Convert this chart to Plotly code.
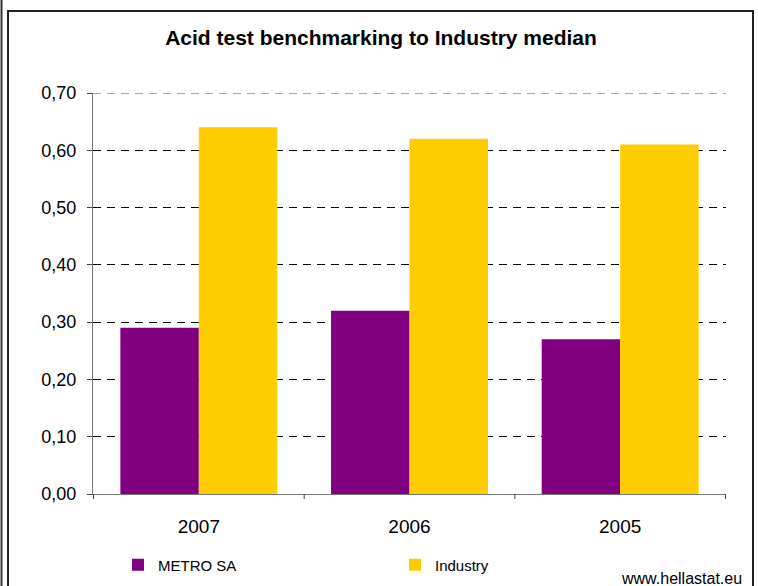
import plotly.graph_objects as go

categories = ["2007", "2006", "2005"]
metro_values = [0.29, 0.32, 0.27]
industry_values = [0.64, 0.62, 0.61]
tick_values = [0.0, 0.1, 0.2, 0.3, 0.4, 0.5, 0.6, 0.7]
tick_labels = ["0,00", "0,10", "0,20", "0,30", "0,40", "0,50", "0,60", "0,70"]

W, H = 758, 586
L, R, T, B = 93, 32, 93, 92
pw, ph = W - L - R, H - T - B

def px(x):
    return (x - L) / pw

def py(y):
    return (H - B - y) / ph

fig = go.Figure()
fig.add_trace(go.Bar(name="METRO SA", x=categories, y=metro_values,
                     marker=dict(color="#800080", line=dict(width=0))))
fig.add_trace(go.Bar(name="Industry", x=categories, y=industry_values,
                     marker=dict(color="#FFCC00", line=dict(width=0))))

fig.update_layout(
    width=W, height=H,
    margin=dict(l=L, r=R, t=T, b=B, pad=0, autoexpand=False),
    paper_bgcolor="white", plot_bgcolor="white",
    barmode="group", bargap=0.255, bargroupgap=0,
    font=dict(family="Liberation Sans, Arial, sans-serif", color="black"),
    title=dict(text="<b>Acid test benchmarking to Industry median</b>",
               xref="container", yref="container",
               x=381 / W, xanchor="center", y=1 - 38 / H, yanchor="middle",
               font=dict(size=21)),
    xaxis=dict(showgrid=False, showline=True, linecolor="#777", linewidth=1,
               ticks="", tickfont=dict(size=19), ticklabelstandoff=15,
               automargin=False),
    yaxis=dict(range=[0, 0.7], tickvals=tick_values, ticktext=tick_labels,
               showline=True, linecolor="#777", linewidth=1,
               ticks="outside", ticklen=5, tickcolor="#444",
               gridcolor="black", griddash="8px,6px", gridwidth=1,
               tickfont=dict(size=18), ticklabelstandoff=7, zeroline=False,
               automargin=False),
    legend=dict(orientation="h", xref="container", yref="container",
                x=118 / W, xanchor="left", y=1 - 565 / H, yanchor="middle",
                font=dict(size=15), entrywidth=232, entrywidthmode="pixels",
                itemwidth=30, bgcolor="rgba(0,0,0,0)"),
    showlegend=True,
)

# top gridline at the range edge (plotly skips it)
fig.add_shape(type="line", xref="paper", yref="y", x0=0, x1=1,
              y0=tick_values[-1], y1=tick_values[-1],
              line=dict(color="#555", width=1, dash="8px,6px"))

# category separator ticks on the x axis
for xv in [-0.5, 0.5, 1.5, 2.5]:
    fig.add_shape(type="line", xref="x", yref="paper", x0=xv, x1=xv,
                  y0=0, y1=-5 / ph, line=dict(color="#444", width=1))

# outer frame
fig.add_shape(type="rect", xref="paper", yref="paper",
              x0=px(8), x1=px(753), y0=py(11), y1=py(600),
              line=dict(color="#222", width=2), layer="above")
fig.add_shape(type="line", xref="paper", yref="paper",
              x0=px(1.5), x1=px(1.5), y0=py(0), y1=py(600),
              line=dict(color="#333", width=2))

fig.add_annotation(text="www.hellastat.eu", xref="paper", yref="paper",
                   x=px(744), y=py(578), xanchor="right", yanchor="middle",
                   showarrow=False, font=dict(size=16, color="black"))

fig.write_html("out.html")
